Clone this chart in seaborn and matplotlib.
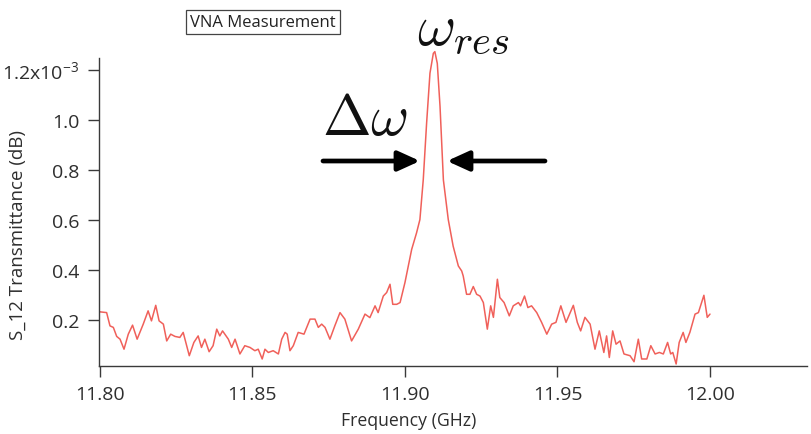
import matplotlib
matplotlib.use("Agg")
import matplotlib.pyplot as plt
import seaborn as sns
import pandas as pd

# ---- data (frequency in GHz, transmittance in units of 1e-3) ----
freq_ghz = [
    11.8000, 11.8022, 11.8033, 11.8044, 11.8055, 11.8066, 11.8079, 11.8093, 11.8107, 11.8122,
    11.8142, 11.8158, 11.8169, 11.8183, 11.8194, 11.8208, 11.8219, 11.8232, 11.8246, 11.8262,
    11.8273, 11.8293, 11.8308, 11.8322, 11.8333, 11.8344, 11.8358, 11.8371, 11.8383, 11.8393,
    11.8402, 11.8421, 11.8432, 11.8443, 11.8459, 11.8475, 11.8492, 11.8508, 11.8519, 11.8532,
    11.8541, 11.8552, 11.8568, 11.8585, 11.8596, 11.8607, 11.8614, 11.8623, 11.8634, 11.8650,
    11.8669, 11.8689, 11.8705, 11.8716, 11.8727, 11.8738, 11.8754, 11.8770, 11.8787, 11.8803,
    11.8825, 11.8847, 11.8869, 11.8885, 11.8902, 11.8912, 11.8929, 11.8940, 11.8951, 11.8960,
    11.8973, 11.8984, 11.9000, 11.9022, 11.9038, 11.9049, 11.9060, 11.9071, 11.9082, 11.9093,
    11.9098, 11.9106, 11.9115, 11.9126, 11.9142, 11.9158, 11.9175, 11.9186, 11.9191, 11.9202,
    11.9213, 11.9224, 11.9235, 11.9246, 11.9257, 11.9270, 11.9281, 11.9290, 11.9303, 11.9311,
    11.9325, 11.9342, 11.9355, 11.9372, 11.9379, 11.9392, 11.9403, 11.9415, 11.9432, 11.9448,
    11.9465, 11.9481, 11.9495, 11.9511, 11.9528, 11.9552, 11.9565, 11.9576, 11.9590, 11.9607,
    11.9623, 11.9637, 11.9652, 11.9661, 11.9670, 11.9681, 11.9692, 11.9705, 11.9718, 11.9738,
    11.9751, 11.9765, 11.9776, 11.9793, 11.9806, 11.9820, 11.9834, 11.9847, 11.9861, 11.9871,
    11.9878, 11.9889, 11.9899, 11.9912, 11.9921, 11.9934, 11.9951, 11.9962, 11.9980, 11.9991,
    12.0000,
]
s12_e3 = [
    0.234, 0.231, 0.178, 0.172, 0.136, 0.125, 0.085, 0.145, 0.181, 0.125,
    0.185, 0.238, 0.198, 0.260, 0.198, 0.185, 0.118, 0.145, 0.136, 0.132,
    0.152, 0.059, 0.112, 0.138, 0.092, 0.125, 0.075, 0.099, 0.165, 0.138,
    0.158, 0.125, 0.092, 0.125, 0.066, 0.099, 0.092, 0.079, 0.085, 0.046,
    0.085, 0.072, 0.079, 0.066, 0.125, 0.152, 0.145, 0.079, 0.099, 0.152,
    0.145, 0.205, 0.205, 0.172, 0.185, 0.172, 0.125, 0.178, 0.231, 0.205,
    0.118, 0.165, 0.225, 0.211, 0.258, 0.231, 0.297, 0.311, 0.344, 0.264,
    0.264, 0.271, 0.351, 0.483, 0.549, 0.602, 0.761, 0.987, 1.186, 1.265,
    1.272, 1.225, 1.053, 0.760, 0.602, 0.496, 0.417, 0.397, 0.377, 0.304,
    0.304, 0.335, 0.304, 0.297, 0.271, 0.165, 0.258, 0.212, 0.364, 0.291,
    0.271, 0.218, 0.258, 0.271, 0.258, 0.297, 0.251, 0.258, 0.231, 0.192,
    0.145, 0.185, 0.192, 0.258, 0.192, 0.260, 0.192, 0.158, 0.212, 0.185,
    0.085, 0.158, 0.072, 0.138, 0.052, 0.158, 0.105, 0.118, 0.066, 0.059,
    0.035, 0.125, 0.046, 0.046, 0.099, 0.066, 0.072, 0.066, 0.112, 0.066,
    0.072, 0.026, 0.112, 0.152, 0.112, 0.152, 0.225, 0.231, 0.300, 0.212,
    0.225,
]
x_ticks = [11.80, 11.85, 11.90, 11.95, 12.00]
x_tick_labels = ["11.80", "11.85", "11.90", "11.95", "12.00"]
y_ticks = [0.2, 0.4, 0.6, 0.8, 1.0, 1.2]
y_tick_labels = ["0.2", "0.4", "0.6", "0.8", "1.0", "1.2x10$^{\\mathregular{-3}}$"]

df = pd.DataFrame({"freq": freq_ghz, "s12": s12_e3})

sns.set_theme(style="ticks")
plt.rcParams["font.family"] = ["Open Sans", "DejaVu Sans"]
plt.rcParams["mathtext.fontset"] = "cm"

fig = plt.figure(figsize=(8.12, 4.35), dpi=100)
fig.patch.set_facecolor("white")
ax = fig.add_axes([99 / 812, 1 - 367 / 435, (807 - 99) / 812, (367 - 59) / 435])

sns.lineplot(data=df, x="freq", y="s12", ax=ax, color="#f0605a",
             linewidth=1.1, estimator=None, sort=False)
for ln in ax.lines:
    ln.set_clip_on(False)

ax.set_xlim(11.7997, 12.0318)
ax.set_ylim(0.018, 1.2465)

ax.set_xticks(x_ticks)
ax.set_xticklabels(x_tick_labels)
ax.set_yticks(y_ticks)
ax.set_yticklabels(y_tick_labels)

axis_col = "#3a3a3a"
for side in ["top", "right"]:
    ax.spines[side].set_visible(False)
for side in ["left", "bottom"]:
    ax.spines[side].set_color(axis_col)
    ax.spines[side].set_linewidth(1.0)
ax.tick_params(axis="both", direction="out", length=8, width=1.0,
               color=axis_col, labelcolor="#2e2e2e", labelsize=14, pad=6)

ax.set_xlabel("Frequency (GHz)", fontsize=12.7, color="#2e2e2e")
ax.set_ylabel("S_12 Transmittance (dB)", fontsize=13.5, color="#2e2e2e")
ax.xaxis.set_label_coords((409 - 99) / 708, -(412 - 367) / 308)
ax.yaxis.set_label_coords(-(99 - 27) / 708, (367 - 235) / 308)

# legend-like box
fig.text(263 / 812, 1 - 23 / 435, "VNA Measurement", ha="center", va="center",
         fontsize=12, color="#222222",
         bbox=dict(boxstyle="square,pad=0.25", facecolor="white",
                   edgecolor="#444444", linewidth=0.9))

# annotations
fig.text(463 / 812, 1 - 30 / 435, r"$\omega_{res}$", ha="center", va="center",
         fontsize=42, color="#111111")
fig.text(365 / 812, 1 - 120 / 435, r"$\Delta\omega$", ha="center", va="center",
         fontsize=42, color="#111111")

arrow_y = 1 - 162 / 435
arrowprops = dict(arrowstyle="-|>,head_width=0.5,head_length=1.1",
                  color="black", lw=3.4, shrinkA=0, shrinkB=0)
ax.annotate("", xy=(420 / 812, arrow_y), xytext=(323 / 812, arrow_y),
            xycoords="figure fraction", textcoords="figure fraction",
            arrowprops=arrowprops)
ax.annotate("", xy=(447 / 812, arrow_y), xytext=(545 / 812, arrow_y),
            xycoords="figure fraction", textcoords="figure fraction",
            arrowprops=arrowprops)

fig.savefig("out.png", dpi=100, facecolor="white")
